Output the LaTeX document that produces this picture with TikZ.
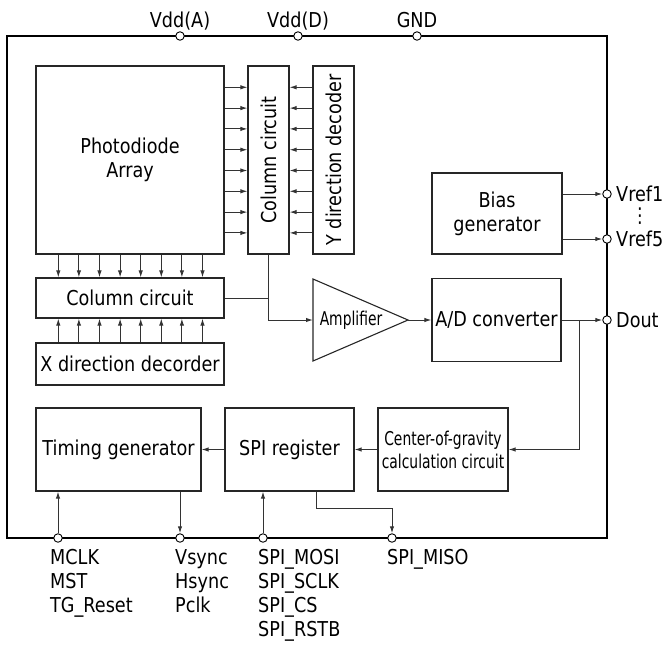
\documentclass[tikz,border=0pt]{standalone}
\usepackage{fontspec}
\setmainfont{DejaVu Sans}[FakeStretch=0.86]
\newfontfamily\condfont{DejaVu Sans}[FakeStretch=0.73]
\usetikzlibrary{arrows.meta,calc}
\begin{document}
\begin{tikzpicture}[x=1pt,y=-1pt,
  mainfnt/.style={font=\fontsize{20.5}{24}\selectfont},
  condfnt/.style={font=\condfont\fontsize{19}{23}\selectfont},
  box/.style={draw=black!85,line width=1.1pt,inner sep=0pt,align=center,mainfnt},
  outer/.style={draw=black,line width=1.3pt},
  conn/.style={draw=black!80,line width=1pt},
  arr/.style={conn,-{Latex[length=7pt,width=4.4pt]}},
  pin/.style={circle,draw=black,fill=white,line width=0.9pt,minimum size=8.5pt,inner sep=0pt},
  lbl/.style={inner sep=0pt,mainfnt},
]
\useasboundingbox (0,0) rectangle (667,646);

% outer package
\draw[outer] (7,36) rectangle (607,538);

% blocks
\node[box,minimum width=188pt,minimum height=188pt] (pd) at (130,160) {Photodiode\\Array};
\node[box,minimum width=41pt,minimum height=188pt] (cc) at (268.5,160) {};
\node[mainfnt,rotate=90] (cctext) at (cc.center) {Column circuit};
\node[box,minimum width=41pt,minimum height=188pt] (yd) at (333.5,160) {};
\node[mainfnt,rotate=90] (ydtext) at (yd.center) {Y direction decoder};
\node[box,minimum width=188pt,minimum height=40pt] (ch) at (130,298) {Column circuit};
\node[box,minimum width=188pt,minimum height=42pt] (xd) at (130,364) {X direction decorder};
\node[box,minimum width=130pt,minimum height=81pt] (bg) at (497,213.5) {Bias\\generator};
\node[box,minimum width=129pt,minimum height=83pt] (ad) at (496.5,320) {A/D converter};
\node[box,minimum width=165pt,minimum height=83pt] (tg) at (118.5,449.5) {Timing generator};
\node[box,minimum width=129pt,minimum height=83pt] (sr) at (289.5,449.5) {SPI register};
\node[box,minimum width=130pt,minimum height=83pt,condfnt] (cg) at (443,449.5) {Center-of-gravity\\calculation circuit};

% amplifier
\coordinate (ampin) at (313,320);
\coordinate (ampout) at (408,320);
\draw[draw=black!85,line width=1.1pt] (313,279) -- (ampout) -- (313,361) -- cycle;
\node[condfnt,inner sep=0pt] (amplbl) at (351,320) {Amplifier};

% pixel-array connectors
\foreach \y in {87.3,108.1,128.9,149.7,170.5,191.3,212.1,232.9}{
  \draw[arr] (pd.east |- 0,\y) -- (cc.west |- 0,\y);
  \draw[arr] (yd.west |- 0,\y) -- (cc.east |- 0,\y);
}
\foreach \x in {58.3,78.9,99.5,120.1,140.7,161.3,181.9,202.5}{
  \draw[arr] (pd.south -| \x,0) -- (ch.north -| \x,0);
  \draw[arr] (xd.north -| \x,0) -- (ch.south -| \x,0);
}

% signal path
\draw[conn] (ch.east) -- (ch.east -| cc.south);
\draw[arr] (cc.south) |- (ampin);
\draw[arr] (ampout) -- (ad.west);
\coordinate (br) at (579,320);
\coordinate (miso0) at (316,508);

% pins
\node[pin] (vdda) at (180,36) {};
\node[pin] (vddd) at (298,36) {};
\node[pin] (gnd) at (417,36) {};
\node[pin] (vref1) at (607,194) {};
\node[pin] (vref5) at (607,239) {};
\node[pin] (dout) at (607,320) {};
\node[pin] (mclk) at (58,538) {};
\node[pin] (vsync) at (180,538) {};
\node[pin] (mosi) at (263,538) {};
\node[pin] (miso) at (392,538) {};

\draw[arr] (ad.east) -- (dout.west);
\draw[arr] (br) |- (cg.east);
\draw[arr] (cg.west) -- (sr.east);
\draw[arr] (sr.west) -- (tg.east);
\draw[arr] (bg.east |- vref1) -- (vref1.west);
\draw[arr] (bg.east |- vref5) -- (vref5.west);
\draw[arr] (mclk.north) -- (tg.south -| mclk);
\draw[arr] (tg.south -| vsync) -- (vsync.north);
\draw[arr] (mosi.north) -- (sr.south -| mosi);
\draw[arr] (sr.south -| miso0) -- (miso0) -| (miso.north);

% pin labels
\node[lbl,anchor=base] (lvdda) at (180,27) {Vdd(A)};
\node[lbl,anchor=base] (lvddd) at (298,27) {Vdd(D)};
\node[lbl,anchor=base] (lgnd) at (417,27) {GND};
\node[lbl,anchor=west] (lvref1) at (616,194) {Vref1};
\node[lbl,anchor=west] (lvref5) at (616,239) {Vref5};
\node[lbl] (ldots) at (640,216) {⋮};
\node[lbl,anchor=west] (ldout) at (616,320) {Dout};

\node[lbl,anchor=base west] (l1) at (50,564) {MCLK};
\node[lbl,anchor=base west] (l2) at (50,588) {MST};
\node[lbl,anchor=base west] (l3) at (50,612) {TG\_Reset};
\node[lbl,anchor=base west] (l4) at (175,564) {Vsync};
\node[lbl,anchor=base west] (l5) at (175,588) {Hsync};
\node[lbl,anchor=base west] (l6) at (175,612) {Pclk};
\node[lbl,anchor=base west] (l7) at (258,564) {SPI\_MOSI};
\node[lbl,anchor=base west] (l8) at (258,588) {SPI\_SCLK};
\node[lbl,anchor=base west] (l9) at (258,612) {SPI\_CS};
\node[lbl,anchor=base west] (l10) at (258,636) {SPI\_RSTB};
\node[lbl,anchor=base west] (l11) at (387,564) {SPI\_MISO};
\end{tikzpicture}
\end{document}
